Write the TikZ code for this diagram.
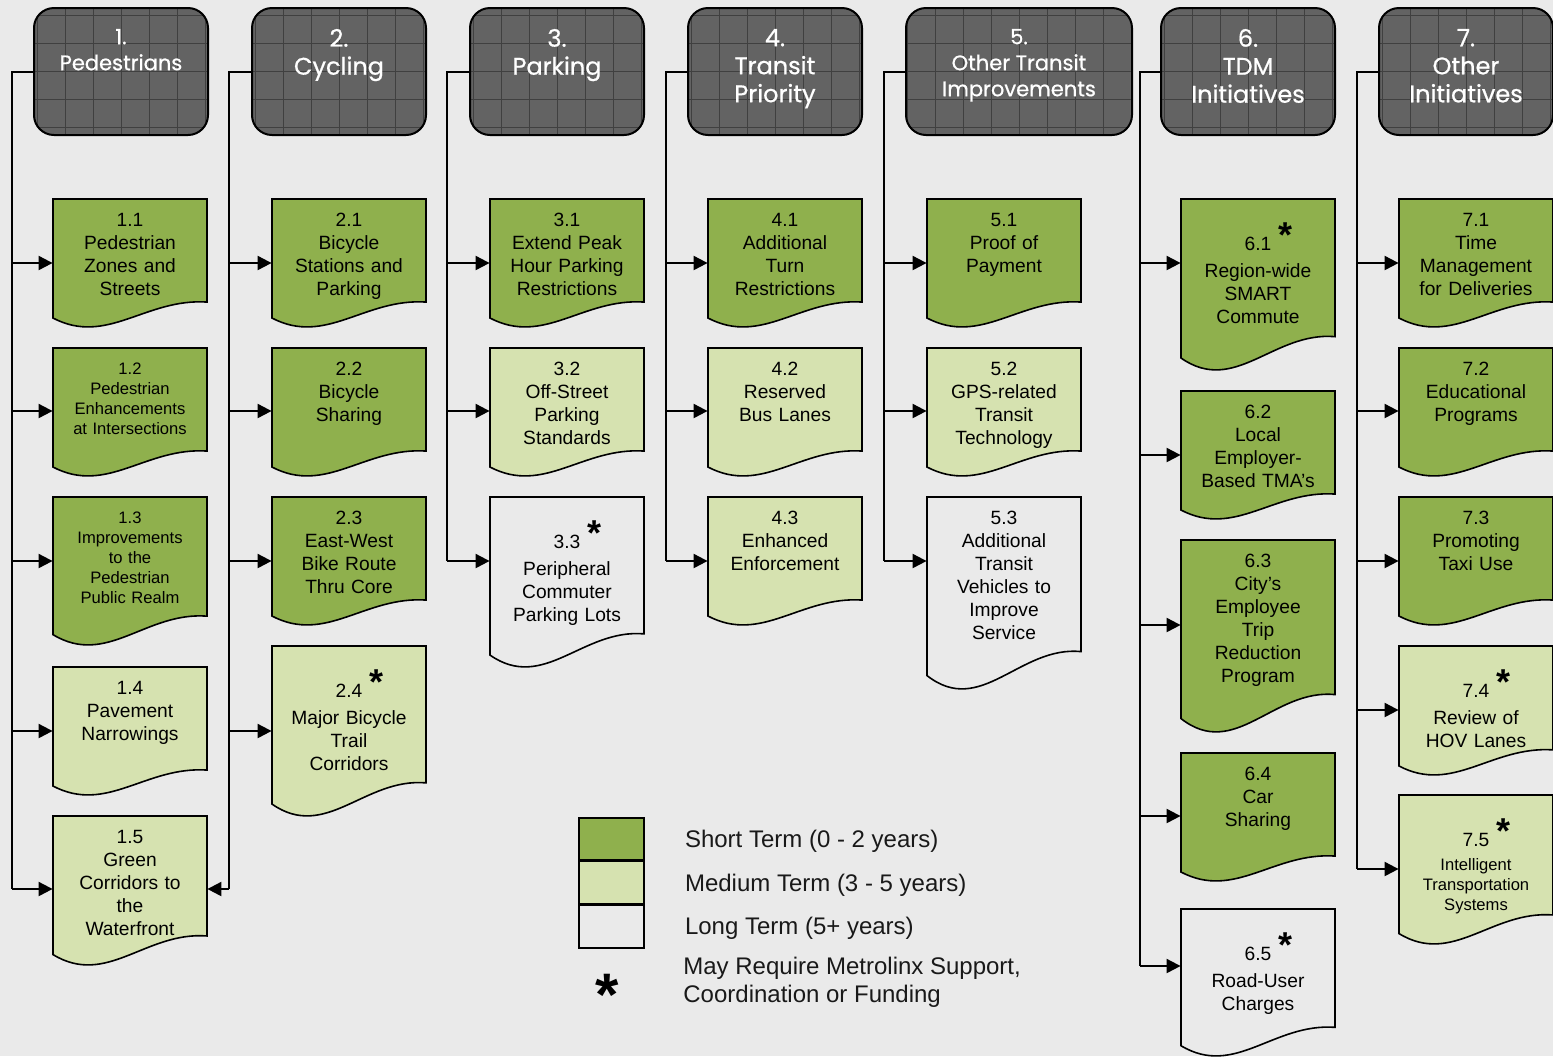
\documentclass[tikz,border=0pt]{standalone}
\usepackage{fontspec}
\setmainfont{Liberation Sans}
\newfontfamily\headfont[FakeBold=0.7]{Poppins}
\usepackage{xcolor}
\usetikzlibrary{arrows.meta, positioning}

\definecolor{bggray}{HTML}{EAEAEA}
\definecolor{shortgreen}{HTML}{8FB04D}
\definecolor{midgreen}{HTML}{D6E2B0}
\definecolor{headgray}{HTML}{636363}

% number with the Metrolinx star
\newcommand{\starnum}[1]{\rule{0pt}{18.4pt}#1\rlap{\kern3.5pt\raisebox{1.5pt}{\fontsize{18}{18}\selectfont\bfseries *}}}

% document-shaped box: name, style, x, top, height, text style, text
\newcommand{\docbox}[7]{%
  \pgfmathsetmacro{\docya}{#4+0.805*#5}%
  \pgfmathsetmacro{\docyb}{#4+0.774*#5}%
  \pgfmathsetmacro{\docyc}{#4+1.15*#5}%
  \pgfmathsetmacro{\docyd}{#4+0.93*#5}%
  \path[#2] (#3,#4) -- (#3+154,#4) -- (#3+154,\docya)
    .. controls (#3+92.4,\docyb) and (#3+53.9,\docyc) .. (#3,\docyd) -- cycle;
  \node[boxtext,#6] (#1) at (#3+77,#4) {#7};
}

\begin{document}
\begin{tikzpicture}[
    x=0.5pt, y=-0.5pt,
    shortterm/.style={draw=black, line width=0.8pt, fill=shortgreen},
    midterm/.style={draw=black, line width=0.8pt, fill=midgreen},
    longterm/.style={draw=black, line width=0.8pt},
    boxtext/.style={anchor=north, text width=72pt, inner xsep=2.5pt, inner ysep=7pt,
      align=center, font=\fontsize{9.6}{11.5}\selectfont},
    smalltext/.style={font=\fontsize{8.3}{10}\selectfont},
    headbox/.style={draw=black, line width=1pt, fill=headgray, rounded corners=10pt,
      anchor=north west, minimum height=63.5pt, inner sep=0pt,
      path picture={\draw[black!75, line width=0.3pt]
        (path picture bounding box.south west) grid[step=14pt]
        (path picture bounding box.north east);}},
    headtext/.style={text=white, align=center, anchor=north, inner ysep=10.8pt},
    trunk/.style={line width=1pt},
    arr/.style={line width=1pt, -{Triangle[length=7pt, width=7pt]}},
    keytext/.style={inner sep=0pt, align=left, text=black!90, font=\fontsize{12}{14}\selectfont}
    ]

    \useasboundingbox (0,0) rectangle (1553,1056);
    \fill[bggray] (0,0) rectangle (1553,1056);

    % Headers and trunk lines
    \foreach \i/\x/\w/\fs/\lead/\txt/\tx/\ty in {
        1/33/87/10.5/13/{1.\\Pedestrians}/12/889,
        2/251/87/12/14/{2.\\Cycling}/229/889,
        3/469/87/12/14/{3.\\Parking}/447/561,
        4/687/87/12/14/{4.\\Transit\\Priority}/666/561,
        5/905/113/10.5/13/{5.\\Other Transit\\Improvements}/884/561,
        6/1160/87/12/14/{6.\\TDM\\Initiatives}/1140/966,
        7/1378/87/12/14/{7.\\Other\\Initiatives}/1357/869} {
      \node[headbox, minimum width=\w pt] (h\i) at (\x,7) {};
      \node[headtext, font=\headfont\fontsize{\fs}{\lead}\selectfont] (h\i t) at (h\i.north) {\txt};
      \coordinate (t\i) at (\tx,\ty);
      \draw[trunk] (h\i.west) -| (t\i);
    }

    % 1. Pedestrians
    \docbox{n11}{shortterm}{53}{199}{128}{}{1.1\\Pedestrian\\Zones and\\Streets}
    \docbox{n12}{shortterm}{53}{348}{128}{smalltext}{1.2\\Pedestrian\\Enhancements\\at Intersections}
    \docbox{n13}{shortterm}{53}{497}{148}{smalltext}{1.3\\Improvements\\to the\\Pedestrian\\Public Realm}
    \docbox{n14}{midterm}{53}{667}{128}{}{1.4\\Pavement\\Narrowings}
    \docbox{n15}{midterm}{53}{816}{149}{}{1.5\\Green\\Corridors to\\the\\Waterfront}

    % 2. Cycling
    \docbox{n21}{shortterm}{272}{199}{128}{}{2.1\\Bicycle\\Stations and\\Parking}
    \docbox{n22}{shortterm}{272}{348}{128}{}{2.2\\Bicycle\\Sharing}
    \docbox{n23}{shortterm}{272}{497}{128}{}{2.3\\East-West\\Bike Route\\Thru Core}
    \docbox{n24}{midterm}{272}{646}{170}{}{\starnum{2.4}\\[2.3pt]Major Bicycle\\Trail\\Corridors}

    % 3. Parking
    \docbox{n31}{shortterm}{490}{199}{128}{}{3.1\\Extend Peak\\Hour Parking\\Restrictions}
    \docbox{n32}{midterm}{490}{348}{128}{}{3.2\\Off-Street\\Parking\\Standards}
    \docbox{n33}{longterm}{490}{497}{170}{}{\starnum{3.3}\\[2.3pt]Peripheral\\Commuter\\Parking Lots}

    % 4. Transit Priority
    \docbox{n41}{shortterm}{708}{199}{128}{}{4.1\\Additional\\Turn\\Restrictions}
    \docbox{n42}{midterm}{708}{348}{128}{}{4.2\\Reserved\\Bus Lanes}
    \docbox{n43}{midterm}{708}{497}{128}{}{4.3\\Enhanced\\Enforcement}

    % 5. Other Transit Improvements
    \docbox{n51}{shortterm}{927}{199}{128}{}{5.1\\Proof of\\Payment}
    \docbox{n52}{midterm}{927}{348}{128}{}{5.2\\GPS-related\\Transit\\Technology}
    \docbox{n53}{longterm}{927}{497}{192}{}{5.3\\Additional\\Transit\\Vehicles to\\Improve\\Service}

    % 6. TDM Initiatives
    \docbox{n61}{shortterm}{1181}{199}{171}{}{\starnum{6.1}\\[2.3pt]Region-wide\\SMART\\Commute}
    \docbox{n62}{shortterm}{1181}{391}{128}{}{6.2\\Local\\Employer-\\Based TMA’s}
    \docbox{n63}{shortterm}{1181}{540}{192}{}{6.3\\City’s\\Employee\\Trip\\Reduction\\Program}
    \docbox{n64}{shortterm}{1181}{753}{128}{}{6.4\\Car\\Sharing}
    \docbox{n65}{longterm}{1181}{909}{147}{}{\starnum{6.5}\\[2.3pt]Road-User\\Charges}

    % 7. Other Initiatives
    \docbox{n71}{shortterm}{1399}{199}{128}{}{7.1\\Time\\Management\\for Deliveries}
    \docbox{n72}{shortterm}{1399}{348}{128}{}{7.2\\Educational\\Programs}
    \docbox{n73}{shortterm}{1399}{497}{128}{}{7.3\\Promoting\\Taxi Use}
    \docbox{n74}{midterm}{1399}{646}{129}{}{\starnum{7.4}\\[2.3pt]Review of\\HOV Lanes}
    \docbox{n75}{midterm}{1399}{795}{149}{smalltext}{\starnum{{\fontsize{9.6}{11.5}\selectfont 7.5}}\\[2.3pt]Intelligent\\Transportation\\Systems}

    % Arrows from the trunks
    \foreach \n/\y in {n11/263, n12/411, n13/561, n14/731}
      \draw[arr] (t1 |- 0,\y) -- (\n.west |- 0,\y);
    \draw[arr] (t1) -- (n15.west |- t1);
    \foreach \n/\y in {n21/263, n22/411, n23/561, n24/731}
      \draw[arr] (t2 |- 0,\y) -- (\n.west |- 0,\y);
    \draw[arr] (t2) -- (n15.east |- t2);
    \foreach \n/\y in {n31/263, n32/411}
      \draw[arr] (t3 |- 0,\y) -- (\n.west |- 0,\y);
    \draw[arr] (t3) -- (n33.west |- t3);
    \foreach \n/\y in {n41/263, n42/411}
      \draw[arr] (t4 |- 0,\y) -- (\n.west |- 0,\y);
    \draw[arr] (t4) -- (n43.west |- t4);
    \foreach \n/\y in {n51/263, n52/411}
      \draw[arr] (t5 |- 0,\y) -- (\n.west |- 0,\y);
    \draw[arr] (t5) -- (n53.west |- t5);
    \foreach \n/\y in {n61/263, n62/455, n63/625, n64/816}
      \draw[arr] (t6 |- 0,\y) -- (\n.west |- 0,\y);
    \draw[arr] (t6) -- (n65.west |- t6);
    \foreach \n/\y in {n71/263, n72/411, n73/561, n74/710}
      \draw[arr] (t7 |- 0,\y) -- (\n.west |- 0,\y);
    \draw[arr] (t7) -- (n75.west |- t7);

    % Legend
    \node[shortterm, anchor=north west, minimum width=32.5pt, minimum height=21pt, inner sep=0pt] (keyshort) at (578,817) {};
    \node[midterm, anchor=north, minimum width=32.5pt, minimum height=21pt, inner sep=0pt] (keymid) at (keyshort.south) {};
    \node[longterm, anchor=north, minimum width=32.5pt, minimum height=21.5pt, inner sep=0pt] (keylong) at (keymid.south) {};
    \node[keytext, right=20pt of keyshort, yshift=-1pt] (shorttxt) {Short Term (0 - 2 years)};
    \node[keytext, right=20pt of keymid, yshift=-1.2pt] (midtxt) {Medium Term (3 - 5 years)};
    \node[keytext, right=20pt of keylong, yshift=-1pt] (longtxt) {Long Term (5+ years)};
    \node[anchor=base, inner sep=0pt, font=\bfseries\fontsize{30}{30}\selectfont] (keystar) at (607,1015) {*};
    \node[keytext, anchor=west] (startxt) at (683,982) {May Require Metrolinx Support,\\Coordination or Funding};

  \end{tikzpicture}
\end{document}
